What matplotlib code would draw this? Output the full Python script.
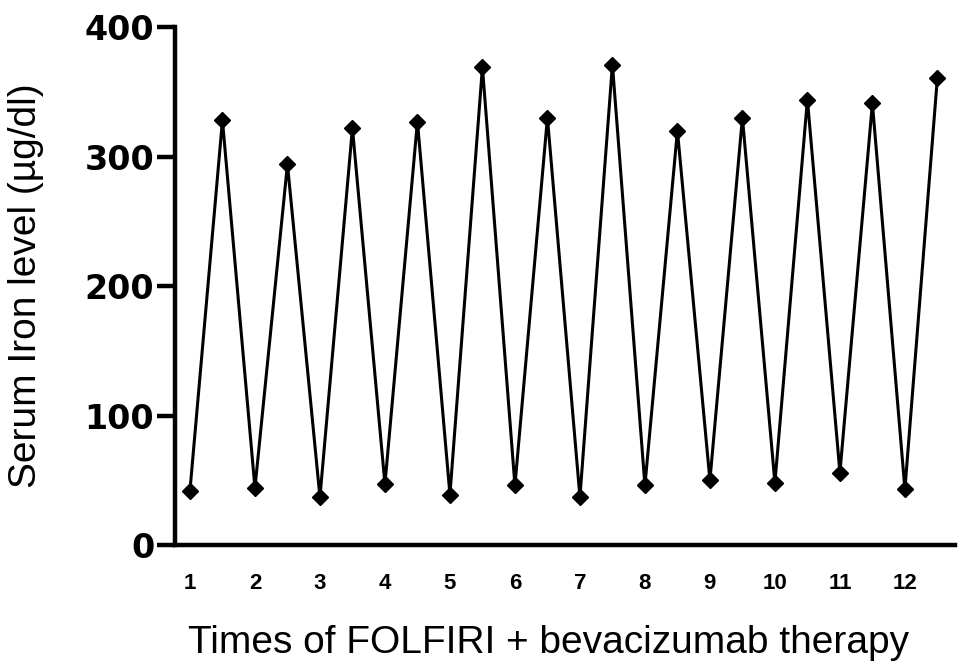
import matplotlib
matplotlib.use("Agg")
from matplotlib import pyplot as plt

# therapy cycles: low value at each cycle, high value half a step later
cycle = [1, 2, 3, 4, 5, 6, 7, 8, 9, 10, 11, 12]
iron_low = [42, 44, 37, 47, 39, 46, 37, 46, 50, 48, 56, 43]
iron_high = [328, 294, 322, 327, 369, 330, 371, 320, 330, 344, 341, 361]
tick_labels = [str(c) for c in cycle]

x = []
y = []
for c, lo, hi in zip(cycle, iron_low, iron_high):
    x.append(c)
    y.append(lo)
    x.append(c + 0.5)
    y.append(hi)

fig = plt.figure(figsize=(9.69, 6.69), dpi=100)
ax = fig.add_axes([0.1806, 0.1853, 0.8049, 0.7743])

ax.plot(x, y, color="black", lw=2.2, marker="D", markersize=8.5, zorder=3)

ax.set_xlim(0.77, 12.77)
ax.set_ylim(0, 400)
ax.set_yticks([0, 100, 200, 300, 400])
ax.set_xticks(cycle)
ax.set_xticklabels(tick_labels)

for s in ["top", "right"]:
    ax.spines[s].set_visible(False)
for s in ["left", "bottom"]:
    ax.spines[s].set_linewidth(3.2)

ax.tick_params(axis="y", length=13, width=3.2, pad=2)
ax.tick_params(axis="x", length=0, pad=20)
for t in ax.get_yticklabels():
    t.set_fontfamily("DejaVu Sans")
    t.set_fontweight("heavy")
    t.set_fontsize(24)
for t in ax.get_xticklabels():
    t.set_fontfamily("Liberation Sans")
    t.set_fontweight("bold")
    t.set_fontsize(16)

ax.set_ylabel("Serum Iron level (µg/dl)", family="Liberation Sans", fontsize=28)
ax.yaxis.set_label_coords(-0.168, 0.5)
ax.set_xlabel("Times of FOLFIRI + bevacizumab therapy", family="Liberation Sans", fontsize=28)
ax.xaxis.set_label_coords(0.479, -0.155)

fig.savefig("out.png", dpi=100)
